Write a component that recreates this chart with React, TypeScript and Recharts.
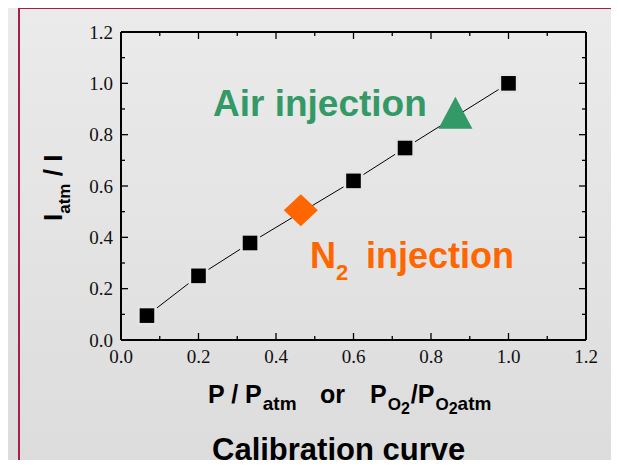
import { ScatterChart, Scatter, XAxis, YAxis } from "recharts";

// calibration points (P/Patm vs Iatm/I)
const calibP = [0.067, 0.2, 0.333, 0.6, 0.733, 1.0];
const calibI = [0.095, 0.25, 0.378, 0.62, 0.748, 1.0];
// injection markers
const n2P = [0.464];
const n2I = [0.506];
const airP = [0.863];
const airI = [0.885];
// axis ticks (major every 0.2, minor in between)
const tickValues = [0, 0.1, 0.2, 0.3, 0.4, 0.5, 0.6, 0.7, 0.8, 0.9, 1.0, 1.1, 1.2];

const calibData = calibP.map((p, i) => ({ x: p, y: calibI[i] }));
const n2Data = n2P.map((p, i) => ({ x: p, y: n2I[i] }));
const airData = airP.map((p, i) => ({ x: p, y: airI[i] }));

const BG = "#e4e4e4";
const GREEN = "#339966";
const ORANGE = "#ff6600";
const SANS = "'Liberation Sans', Arial, sans-serif";
const SERIF = "'Liberation Serif', 'Times New Roman', serif";

const isMajor = (v: number) => Math.round(v * 10) % 2 === 0;

function makeTick(side: "bottom" | "top" | "left" | "right") {
  return (props: any) => {
    const { x, y, payload } = props;
    const v = payload.value as number;
    const len = isMajor(v) ? 7 : 4;
    let x2 = x;
    let y2 = y;
    if (side === "bottom") y2 = y - len;
    if (side === "top") y2 = y + len;
    if (side === "left") x2 = x + len;
    if (side === "right") x2 = x - len;
    return (
      <g>
        <line x1={x} y1={y} x2={x2} y2={y2} stroke="#000" strokeWidth={1.3} />
        {side === "bottom" && isMajor(v) && (
          <text x={x} y={y + 23} textAnchor="middle" fontFamily={SERIF} fontSize={19} fill="#111">
            {v.toFixed(1)}
          </text>
        )}
        {side === "left" && isMajor(v) && (
          <text x={x - 8} y={y + 6.5} textAnchor="end" fontFamily={SERIF} fontSize={19} fill="#111">
            {v.toFixed(1)}
          </text>
        )}
      </g>
    );
  };
}

const SquareShape = (props: any) => {
  const { cx, cy } = props;
  return (
    <g>
      <rect x={cx - 10} y={cy - 10} width={20} height={20} fill={BG} />
      <rect x={cx - 7.3} y={cy - 7.3} width={14.6} height={14.6} fill="#000" />
    </g>
  );
};

const DiamondShape = (props: any) => {
  const { cx, cy } = props;
  return <polygon points={`${cx},${cy - 16} ${cx + 17},${cy} ${cx},${cy + 16} ${cx - 17},${cy}`} fill={ORANGE} />;
};

const TriangleShape = (props: any) => {
  const { cx, cy } = props;
  return <polygon points={`${cx},${cy - 16} ${cx + 17},${cy + 16} ${cx - 17},${cy + 16}`} fill={GREEN} />;
};

export default function App() {
  return (
    <div
      style={{
        position: "relative",
        width: 619,
        height: 468,
        margin: -8,
        overflow: "hidden",
        background: "linear-gradient(#ebebeb, #dcdcdc)",
      }}
    >
      <div
        style={{
          position: "absolute",
          left: 18,
          top: 7,
          width: 597,
          height: 480,
          border: "2px solid #a81e4a",
        }}
      />
      <div style={{ position: "absolute", left: 0, top: 0 }}>
        <ScatterChart width={619} height={468} margin={{ top: 2, right: 3, bottom: 98, left: 61 }}>
          <XAxis
            xAxisId="b"
            type="number"
            dataKey="x"
            domain={[0, 1.2]}
            ticks={tickValues}
            interval={0}
            allowDataOverflow
            orientation="bottom"
            height={30}
            tickLine={false}
            tickSize={0}
            tickMargin={0}
            axisLine={{ stroke: "#000", strokeWidth: 2 }}
            tick={makeTick("bottom")}
          />
          <XAxis
            xAxisId="t"
            type="number"
            dataKey="x"
            domain={[0, 1.2]}
            ticks={tickValues}
            interval={0}
            allowDataOverflow
            orientation="top"
            height={30}
            tickLine={false}
            tickSize={0}
            tickMargin={0}
            axisLine={{ stroke: "#000", strokeWidth: 2 }}
            tick={makeTick("top")}
          />
          <YAxis
            yAxisId="l"
            type="number"
            dataKey="y"
            domain={[0, 1.2]}
            ticks={tickValues}
            interval={0}
            allowDataOverflow
            orientation="left"
            width={60}
            tickLine={false}
            tickSize={0}
            tickMargin={0}
            axisLine={{ stroke: "#000", strokeWidth: 2 }}
            tick={makeTick("left")}
          />
          <YAxis
            yAxisId="r"
            type="number"
            dataKey="y"
            domain={[0, 1.2]}
            ticks={tickValues}
            interval={0}
            allowDataOverflow
            orientation="right"
            width={30}
            tickLine={false}
            tickSize={0}
            tickMargin={0}
            axisLine={{ stroke: "#000", strokeWidth: 2 }}
            tick={makeTick("right")}
          />
          <Scatter
            xAxisId="b"
            yAxisId="l"
            data={calibData}
            line={{ stroke: "#000", strokeWidth: 1 }}
            lineType="joint"
            shape={SquareShape}
            isAnimationActive={false}
          />
          <Scatter xAxisId="b" yAxisId="l" data={n2Data} shape={DiamondShape} isAnimationActive={false} />
          <Scatter xAxisId="b" yAxisId="l" data={airData} shape={TriangleShape} isAnimationActive={false} />
        </ScatterChart>
      </div>
      <svg
        width={619}
        height={468}
        style={{ position: "absolute", left: 0, top: 0, pointerEvents: "none" }}
        fontFamily={SANS}
        fontWeight="bold"
      >
        <text x={213} y={116} fontSize={37} fill={GREEN}>
          Air injection
        </text>
        <text y={268} fontSize={36} fill={ORANGE}>
          <tspan x={310}>N</tspan>
          <tspan x={336} y={280} fontSize={22}>2</tspan>
          <tspan x={366} y={268}>injection</tspan>
        </text>
        <text y={403} fontSize={25} fill="#000">
          <tspan x={208}>P / P</tspan>
          <tspan dx={1} y={410} fontSize={19}>atm</tspan>
          <tspan x={320} y={403}>or</tspan>
          <tspan x={370}>P</tspan>
          <tspan dx={1} y={410} fontSize={17}>O</tspan>
          <tspan y={414} fontSize={16}>2</tspan>
          <tspan dx={1} y={403}>/P</tspan>
          <tspan dx={1} y={410} fontSize={17}>O</tspan>
          <tspan y={414} fontSize={16}>2</tspan>
          <tspan y={410} fontSize={19}>atm</tspan>
        </text>
        <text x={212} y={460} fontSize={31} fill="#000">
          Calibration curve
        </text>
        <text transform="translate(62,221) rotate(-90)" fontSize={26} fill="#000">
          <tspan x={0} y={0}>I</tspan>
          <tspan dy={8} fontSize={17}>atm</tspan>
          <tspan dy={-8}> / I</tspan>
        </text>
      </svg>
    </div>
  );
}
